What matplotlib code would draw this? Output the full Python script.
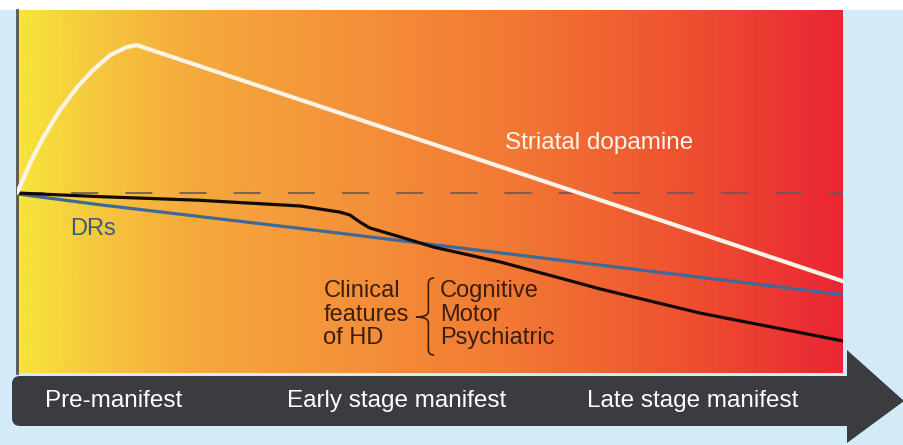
import matplotlib.pyplot as plt
import numpy as np
from matplotlib.colors import LinearSegmentedColormap
from matplotlib.path import Path
from matplotlib.patches import PathPatch, Rectangle, FancyBboxPatch, Polygon

plt.rcParams['font.family'] = ['Liberation Sans', 'DejaVu Sans']

# disease time course (0 = start, 100 = late stage), level relative to baseline = 100
dop_t = [0, 1.6, 3.2, 5.2, 7.3, 9.2, 11.3, 13.3, 14.5, 100]
dop_level = [100, 116.7, 131.1, 146.1, 158.9, 168.3, 176.7, 181.1, 182.2, 51]

drs_t = [0, 10, 34, 100]
drs_level = [99.5, 93.5, 80.5, 43.5]

clin_t = [0, 10, 22, 34.3, 39.1, 40.3, 41.5, 42.7, 46.4, 50.4, 58.5, 66.6, 70.6, 82.7, 100]
clin_level = [100, 98, 96, 92.8, 89.4, 87.8, 83.9, 80.6, 75.6, 70, 61.7, 51.7, 46.7, 33.3, 17.8]

baseline = 100
stages = ['Pre-manifest', 'Early stage manifest', 'Late stage manifest']
stage_x = [45, 287, 587]
features = ['Cognitive', 'Motor', 'Psychiatric']

W, H = 904, 445
fig = plt.figure(figsize=(W / 100, H / 100), dpi=100)
fig.patch.set_facecolor('white')

# background layer in pixel coordinates
bg = fig.add_axes([0, 0, 1, 1])
bg.set_xlim(0, W)
bg.set_ylim(H, 0)
bg.axis('off')
bg.add_patch(Rectangle((0, 10), W, H - 10, color='#d3ebf7', lw=0))

# main plot area
left, right, top, bottom = 17, 843, 10, 373
ax = fig.add_axes([left / W, 1 - bottom / H, (right - left) / W, (bottom - top) / H])
ymax = 201.7
ax.set_xlim(0, 100)
ax.set_ylim(0, ymax)

cmap = LinearSegmentedColormap.from_list('hd', [
    (0.0, '#f6e53c'), (0.08, '#f6cc3e'), (0.2, '#f5ab3c'), (0.4, '#f4923a'),
    (0.6, '#f27834'), (0.8, '#ee5330'), (1.0, '#ea2634')])
grad = np.linspace(0, 1, 400).reshape(1, -1)
ax.imshow(grad, extent=[0, 100, 0, ymax], aspect='auto', cmap=cmap, zorder=0)

for s in ['top', 'right', 'bottom']:
    ax.spines[s].set_visible(False)
ax.spines['left'].set_color('#555555')
ax.spines['left'].set_linewidth(2)
ax.set_xticks([])
ax.set_yticks([])

ax.axhline(baseline, color='#6a5a50', lw=1.5, dashes=(13, 13), alpha=0.85, zorder=1)
ax.plot(drs_t, drs_level, color='#3f6a98', lw=2.3, zorder=2)
ax.plot(clin_t, clin_level, color='#140a05', lw=2.3, zorder=3,
        solid_joinstyle='round')
ax.plot(dop_t, dop_level, color='#fbf3e6', lw=3, zorder=4,
        solid_capstyle='round', solid_joinstyle='round')

ax.text(59.1, 128, 'Striatal dopamine', color='#fdf6ec', fontsize=17.5, va='center', ha='left')
ax.text(6.4, 80, 'DRs', color='#355f74', fontsize=17, va='center', ha='left')

brown = '#3a1e0e'
ax.text(37.1, 32.5, 'Clinical\nfeatures\nof HD', color=brown, fontsize=17, va='center',
        ha='left', linespacing=1.08)
ax.text(51.2, 32.5, '\n'.join(features), color=brown, fontsize=17, va='center',
        ha='left', linespacing=1.08)

# curly brace
bx, tip, y0, y1, ym = 49.8, 48.3, 10, 52.8, 31.1
verts = [(bx + 0.7, y1), (bx, y1), (bx, y1 - 3),
         (bx, ym + 3),
         (bx, ym), (tip, ym),
         (bx, ym), (bx, ym - 3),
         (bx, y0 + 3),
         (bx, y0), (bx + 0.7, y0)]
codes = [Path.MOVETO, Path.CURVE3, Path.CURVE3, Path.LINETO,
         Path.CURVE3, Path.CURVE3, Path.CURVE3, Path.CURVE3,
         Path.LINETO, Path.CURVE3, Path.CURVE3]
ax.add_patch(PathPatch(Path(verts, codes), fill=False, ec=brown, lw=1.2, zorder=5))

# stage arrow
dark = '#3b3c40'
bg.add_patch(FancyBboxPatch((12, 376), 845, 50, boxstyle='round,pad=0,rounding_size=8',
                            color=dark, lw=0))
bg.add_patch(Polygon([(847, 350), (904, 401), (847, 443)], closed=True, color=dark, lw=0))
for name, x in zip(stages, stage_x):
    bg.text(x, 401, name, color='white', fontsize=17.5, va='center', ha='left')

fig.savefig('out.png', dpi=100)
